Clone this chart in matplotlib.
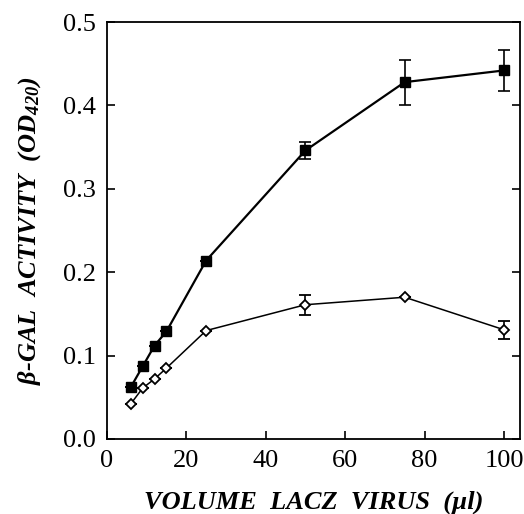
import matplotlib
matplotlib.use("Agg")
import matplotlib.pyplot as plt

plt.rcParams['font.family'] = ['Liberation Serif', 'DejaVu Serif']
plt.rcParams['mathtext.fontset'] = 'custom'
plt.rcParams['mathtext.rm'] = 'Liberation Serif:italic:bold'
plt.rcParams['mathtext.it'] = 'Liberation Serif:italic:bold'
plt.rcParams['mathtext.bf'] = 'Liberation Serif:italic:bold'

volume = [6, 9, 12, 15, 25, 50, 75, 100]
filled = [0.062, 0.087, 0.112, 0.129, 0.214, 0.346, 0.428, 0.442]
filled_err = [0, 0, 0, 0, 0, 0.010, 0.027, 0.025]
open_ = [0.042, 0.061, 0.072, 0.085, 0.130, 0.161, 0.170, 0.131]
open_err = [0, 0, 0, 0, 0, 0.012, 0, 0.011]

xticks = [0, 20, 40, 60, 80, 100]
yticks = [0.0, 0.1, 0.2, 0.3, 0.4, 0.5]

fig = plt.figure(figsize=(5.24, 5.14), dpi=100)
ax = fig.add_axes([0.204, 0.146, 0.788, 0.811])

ax.errorbar(volume, filled, yerr=filled_err,
            fmt='-s', color='black', mfc='black', mec='black', ms=7.5, lw=1.6,
            capsize=4, elinewidth=1.2, capthick=1.2)
ax.errorbar(volume, open_, yerr=open_err, fmt='-D', color='black', mfc='white',
            mec='black', ms=5, mew=1.3, lw=1.1, capsize=4, elinewidth=1.2, capthick=1.2)

ax.set_xlim(0, 104)
ax.set_ylim(0, 0.5)
ax.set_xticks(xticks)
ax.set_yticks(yticks)
ax.set_xticklabels([str(t) for t in xticks])
ax.set_yticklabels([f"{t:.1f}" for t in yticks])
ax.tick_params(direction='in', length=6, width=1.2, labelsize=19, top=False, right=True, pad=8)
for s in ax.spines.values():
    s.set_linewidth(1.3)

ax.set_xlabel("VOLUME  LACZ  VIRUS  (\u00b5l)", fontsize=19, fontweight='bold', style='italic', labelpad=13)
ax.set_ylabel("\u03b2-GAL  ACTIVITY  (OD$_{420}$)", fontsize=19, fontweight='bold', style='italic', labelpad=14)

fig.savefig("out.png", dpi=100)
